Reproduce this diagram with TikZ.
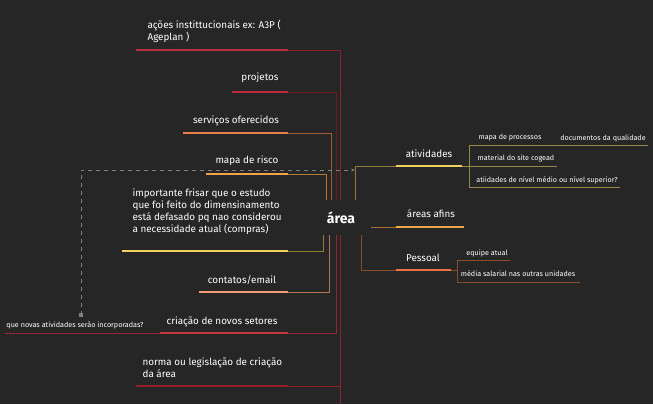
\documentclass[tikz,border=0pt]{standalone}
\usepackage{fontspec}
\setmainfont{Fira Sans}
\usetikzlibrary{arrows.meta,calc}
\definecolor{bg}{HTML}{262626}
\definecolor{wine}{HTML}{8B2231}
\definecolor{cRed}{HTML}{B83040}
\definecolor{cOrg}{HTML}{E8804A}
\definecolor{cGold}{HTML}{F0A448}
\definecolor{cYel}{HTML}{F0D060}
\definecolor{cPeach}{HTML}{F09A78}
\definecolor{cOli}{HTML}{9A8A4A}
\tikzset{
  lbl/.style={text=white, font=\fontsize{7.4}{9}\selectfont, inner sep=1pt},
  sml/.style={text=white, font=\fontsize{5.4}{6}\selectfont, inner sep=1pt},
  bar/.style={line width=2pt},
  link/.style={line width=0.6pt},
}
\begin{document}
\begin{tikzpicture}[x=0.75pt,y=-0.75pt]
\fill [bg] (0,0) rectangle (653,404);
\useasboundingbox (0,0) rectangle (653,404);

% center
\node [text=white, font=\bfseries\fontsize{10.5}{12}\selectfont] (area) at (341,218) {área};

% left branches
\draw [link, wine] (288,50)--(340,50)--(340,200);
\draw [link, wine] (340,235)--(340,404);
\draw [link, wine] (340,386)--(288,386);
\draw [link, wine!80!black] (288,92)--(336,92)--(336,200);
\draw [link, cOrg!70!black] (288,133)--(331,133)--(331,200);
\draw [link, cGold!75!black] (288,174)--(326,174)--(326,200);
\draw [link, cYel!60!black] (288,251)--(323,251)--(323,235);
\draw [link, cPeach!75!black] (288,292)--(329,292)--(329,235);
\draw [link, cRed!80!black] (5,333)--(336,333)--(336,235);

\draw [bar, cRed] (136,50)--(288,50);
\node [lbl, align=left, anchor=west] (acoes) at (146,31) {ações instittucionais ex: A3P (\\Ageplan )};
\draw [bar, cRed!90!red] (232,92)--(288,92);
\node [lbl] (proj) at (260,78) {projetos};
\draw [bar, cOrg] (183,133)--(288,133);
\node [lbl] (serv) at (236,121) {serviços oferecidos};
\draw [bar, cGold] (206,174)--(288,174);
\node [lbl] (risco) at (247,161) {mapa de risco};
\draw [bar, cYel] (122,251)--(288,251);
\node [lbl, align=left, anchor=west] (imp) at (131,212) {importante frisar que o estudo\\que foi feito do dimensinamento\\está defasado pq nao considerou\\a necessidade atual (compras)};
\draw [bar, cPeach] (199,292)--(288,292);
\node [lbl] (cont) at (242,280) {contatos/email};
\draw [bar, cRed!90!orange] (160,333)--(288,333);
\node [lbl] (cria) at (222,322) {criação de novos setores};
\node [sml] (novas) at (75,325) {que novas atividades serão incorporadas?};
\draw [bar, wine!90!red] (136,386)--(288,386);
\node [lbl, align=left, anchor=west] (norma) at (141,368) {norma ou legislação de criação\\da área};

% dashed relation
\coordinate (q) at (81,315);
\coordinate (r) at (355,170);
\fill [gray] ($(q)+(-2,-2)$) rectangle ($(q)+(2,2)$);
\draw [gray, dashed, link, -{Stealth[length=3pt]}] (q)--(81,170)--(r);

% right branches
\draw [link, cYel!60!black] (355,200)--(355,166)--(396,166);
\draw [bar, cYel] (396,166)--(462,166);
\node [lbl] (ativ) at (429,154) {atividades};
\draw [link, cOli] (462,166)--(469,166);
\draw [link, cOli] (469,145)--(469,187);
\draw [link, cOli] (469,145)--(648,145);
\draw [link, cOli] (469,166)--(557,166);
\draw [link, cOli] (469,187)--(620,187);
\node [sml] (mproc) at (510,138) {mapa de processos};
\node [sml] (docs) at (603,138) {documentos da qualidade};
\node [sml] (site) at (516,158) {material do site cogead};
\node [sml] (nivel) at (547,180) {atiidades de nível médio ou nível superior?};

\draw [link, cGold!70!black] (371,227)--(396,227);
\draw [bar, cGold] (396,227)--(464,227);
\node [lbl] (afins) at (431,214) {áreas afins};

\draw [link, cOrg!60!black] (361,235)--(361,270)--(396,270);
\draw [bar, cOrg!90!red] (396,270)--(451,270);
\node [lbl] (pess) at (423,258) {Pessoal};
\draw [link, cOrg!60!black] (451,270)--(457,270);
\draw [link, cOrg!60!black] (457,260)--(457,282);
\draw [link, cOrg!60!black] (457,260)--(510,260);
\draw [link, cOrg!60!black] (457,282)--(580,282);
\node [sml] (equipe) at (487,253) {equipe atual};
\node [sml] (media) at (518,274) {média salarial nas outras unidades};
\end{tikzpicture}
\end{document}
